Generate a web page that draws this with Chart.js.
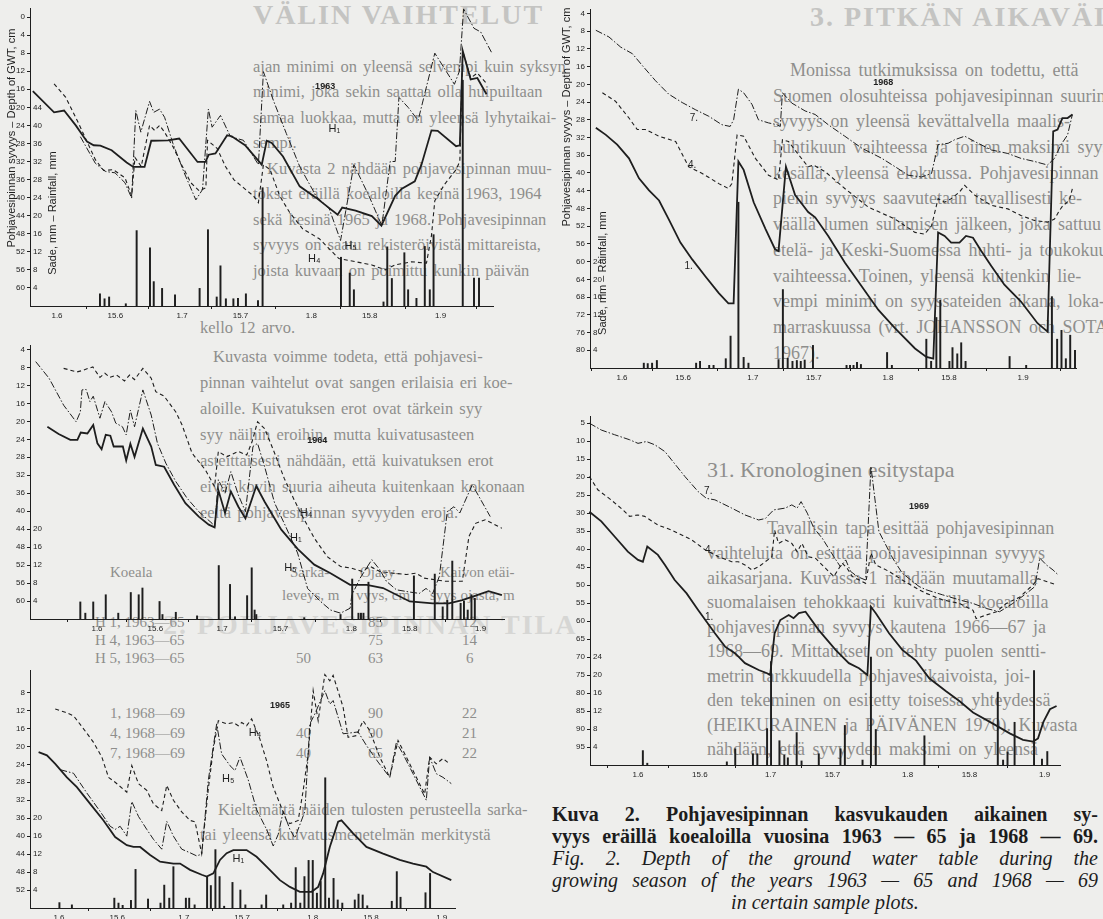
<!DOCTYPE html>
<html>
<head>
<meta charset="utf-8">
<script src="https://cdn.jsdelivr.net/npm/chart.js@4.4.0/dist/chart.umd.min.js"></script>
<style>
  html, body { margin: 0; padding: 0; background: #eeeeec; }
  #page { position: relative; width: 1103px; height: 919px; overflow: hidden; background: #eeeeec; }
  canvas { position: absolute; }
  .ln { position: absolute; white-space: nowrap; font-family: "Liberation Serif", "DejaVu Serif", serif; color: #8e8e8c; line-height: 20px; }
  .lt { font-size: 16.5px; word-spacing: 2px; }
  .rt { font-size: 18px; word-spacing: 3px; }
  .ghost { color: #c4c4c2; font-weight: bold; font-size: 28px; letter-spacing: 2px; line-height: 30px; }
  .ghost2 { color: #d6d6d4; font-weight: bold; font-size: 28px; letter-spacing: 2px; line-height: 30px; }
  .head { font-size: 22px; line-height: 24px; }
  .tab { font-size: 15px; }
  .cap { position: absolute; left: 552px; width: 546px; font-family: "Liberation Serif", serif; font-size: 20px; line-height: 22px; color: #1c1c1c; white-space: nowrap; }
  .cap.j { text-align: justify; text-align-last: justify; }
  .cap.b { font-weight: bold; }
  .cap.i { font-style: italic; }
</style>
</head>
<body>
<div id="page">

  <!-- page text behind the figure -->
  <div class="ln ghost" style="left:253px; top:0px;">VÄLIN VAIHTELUT</div>
  <div class="ln ghost" style="left:810px; top:2px;">3. PITKÄN AIKAVÄLIN VAIHTELUT</div>
  <div class="ln ghost2" style="left:163px; top:610px;">2. POHJAVESIPINNAN TILA</div>

  <div class="ln lt" style="left:253px; top:57px;">ajan minimi on yleensä selvempi kuin syksyn</div>
  <div class="ln lt" style="left:253px; top:82px;">minimi, joka sekin saattaa olla huipuiltaan</div>
  <div class="ln lt" style="left:253px; top:108px;">samaa luokkaa, mutta on yleensä lyhytaikai-</div>
  <div class="ln lt" style="left:253px; top:133px;">sempi.</div>
  <div class="ln lt" style="left:267px; top:159px;">Kuvasta 2 nähdään pohjavesipinnan muu-</div>
  <div class="ln lt" style="left:253px; top:184px;">tokset eräillä koealoilla kesinä 1963, 1964</div>
  <div class="ln lt" style="left:253px; top:210px;">sekä kesinä 1965 ja 1968. Pohjavesipinnan</div>
  <div class="ln lt" style="left:253px; top:235px;">syvyys on saatu rekisteröivistä mittareista,</div>
  <div class="ln lt" style="left:253px; top:261px;">joista kuvaan on poimittu kunkin päivän</div>
  <div class="ln lt" style="left:200px; top:318px;">kello 12 arvo.</div>
  <div class="ln lt" style="left:213px; top:347px;">Kuvasta voimme todeta, että pohjavesi-</div>
  <div class="ln lt" style="left:200px; top:373px;">pinnan vaihtelut ovat sangen erilaisia eri koe-</div>
  <div class="ln lt" style="left:200px; top:399px;">aloille. Kuivatuksen erot ovat tärkein syy</div>
  <div class="ln lt" style="left:200px; top:425px;">syy näihin eroihin, mutta kuivatusasteen</div>
  <div class="ln lt" style="left:200px; top:451px;">asteittaisesti nähdään, että kuivatuksen erot</div>
  <div class="ln lt" style="left:200px; top:477px;">eivät kovin suuria aiheuta kuitenkaan kokonaan</div>
  <div class="ln lt" style="left:200px; top:503px;">eeltä pohjavesipinnan syvyyden eroja.</div>

  <div class="ln tab" style="left:110px; top:562px;">Koeala</div>
  <div class="ln tab" style="left:290px; top:562px;">Sarka-</div>
  <div class="ln tab" style="left:360px; top:562px;">Ojasy-</div>
  <div class="ln tab" style="left:440px; top:562px;">Kaivon etäi-</div>
  <div class="ln tab" style="left:282px; top:585px;">leveys, m</div>
  <div class="ln tab" style="left:356px; top:585px;">vyys, cm</div>
  <div class="ln tab" style="left:430px; top:585px;">syys ojasta, m</div>
  <div class="ln tab" style="left:95px; top:612px;">H 1, 1963—65</div>
  <div class="ln tab" style="left:368px; top:612px;">85</div>
  <div class="ln tab" style="left:462px; top:612px;">12</div>
  <div class="ln tab" style="left:95px; top:630px;">H 4, 1963—65</div>
  <div class="ln tab" style="left:368px; top:630px;">75</div>
  <div class="ln tab" style="left:462px; top:630px;">14</div>
  <div class="ln tab" style="left:95px; top:648px;">H 5, 1963—65</div>
  <div class="ln tab" style="left:296px; top:648px;">50</div>
  <div class="ln tab" style="left:368px; top:648px;">63</div>
  <div class="ln tab" style="left:466px; top:648px;">6</div>
  <div class="ln tab" style="left:110px; top:703px;">1, 1968—69</div>
  <div class="ln tab" style="left:368px; top:703px;">90</div>
  <div class="ln tab" style="left:462px; top:703px;">22</div>
  <div class="ln tab" style="left:110px; top:723px;">4, 1968—69</div>
  <div class="ln tab" style="left:296px; top:723px;">40</div>
  <div class="ln tab" style="left:368px; top:723px;">90</div>
  <div class="ln tab" style="left:462px; top:723px;">21</div>
  <div class="ln tab" style="left:110px; top:743px;">7, 1968—69</div>
  <div class="ln tab" style="left:296px; top:743px;">40</div>
  <div class="ln tab" style="left:368px; top:743px;">65</div>
  <div class="ln tab" style="left:462px; top:743px;">22</div>

  <div class="ln lt" style="left:218px; top:800px;">Kieltämättä näiden tulosten perusteella sarka-</div>
  <div class="ln lt" style="left:200px; top:825px;">tai yleensä kuivatusmenetelmän merkitystä</div>

  <div class="ln rt" style="left:790px; top:60px;">Monissa tutkimuksissa on todettu, että</div>
  <div class="ln rt" style="left:773px; top:86px;">Suomen olosuhteissa pohjavesipinnan suurin</div>
  <div class="ln rt" style="left:773px; top:111px;">syvyys on yleensä kevättalvella maalis-</div>
  <div class="ln rt" style="left:773px; top:137px;">huhtikuun vaihteessa ja toinen maksimi syys-</div>
  <div class="ln rt" style="left:773px; top:163px;">kesällä, yleensä elokuussa. Pohjavesipinnan</div>
  <div class="ln rt" style="left:773px; top:188px;">pienin syvyys saavutetaan tavallisesti ke-</div>
  <div class="ln rt" style="left:773px; top:214px;">väällä lumen sulamisen jälkeen, joka sattuu</div>
  <div class="ln rt" style="left:773px; top:240px;">etelä- ja Keski-Suomessa huhti- ja toukokuun</div>
  <div class="ln rt" style="left:773px; top:266px;">vaihteessa. Toinen, yleensä kuitenkin lie-</div>
  <div class="ln rt" style="left:773px; top:291px;">vempi minimi on syyssateiden aikana, loka-</div>
  <div class="ln rt" style="left:773px; top:317px;">marraskuussa (vrt. JOHANSSON och SOTAMAA</div>
  <div class="ln rt" style="left:773px; top:343px;">1967).</div>

  <div class="ln head" style="left:707px; top:458px;">31. Kronologinen esitystapa</div>
  <div class="ln rt" style="left:767px; top:518px;">Tavallisin tapa esittää pohjavesipinnan</div>
  <div class="ln rt" style="left:707px; top:543px;">vaihteluita on esittää pohjavesipinnan syvyys</div>
  <div class="ln rt" style="left:707px; top:568px;">aikasarjana. Kuvassa 1 nähdään muutamalla</div>
  <div class="ln rt" style="left:707px; top:592px;">suomalaisen tehokkaasti kuivatuilla koealoilla</div>
  <div class="ln rt" style="left:707px; top:617px;">pohjavesipinnan syvyys kautena 1966—67 ja</div>
  <div class="ln rt" style="left:707px; top:641px;">1968—69. Mittaukset on tehty puolen sentti-</div>
  <div class="ln rt" style="left:707px; top:666px;">metrin tarkkuudella pohjavesikaivoista, joi-</div>
  <div class="ln rt" style="left:707px; top:690px;">den tekeminen on esitetty toisessa yhteydessä</div>
  <div class="ln rt" style="left:707px; top:715px;">(HEIKURAINEN ja PÄIVÄNEN 1970). Kuvasta</div>
  <div class="ln rt" style="left:707px; top:739px;">nähdään, että syvyyden maksimi on yleensä</div>

  <!-- figure panels -->
  <canvas id="c1963"></canvas>
  <canvas id="c1964"></canvas>
  <canvas id="c1965"></canvas>
  <canvas id="c1968"></canvas>
  <canvas id="c1969"></canvas>

  <!-- caption -->
  <div class="cap j b" style="top:803px;">Kuva 2. Pohjavesipinnan kasvukauden aikainen sy-</div>
  <div class="cap j b" style="top:825px;">vyys eräillä koealoilla vuosina 1963 — 65 ja 1968 — 69.</div>
  <div class="cap j i" style="top:847px;">Fig. 2. Depth of the ground water table during the</div>
  <div class="cap j i" style="top:869px;">growing season of the years 1963 — 65 and 1968 — 69</div>
  <div class="cap i" style="top:891px; text-align:center;">in certain sample plots.</div>
</div>

<script>
/* ======================
   DATA  (day counted from 1 June; depth cm; rain mm)
====================== */
const X_TICK_DAYS = [0, 14, 30, 44, 61, 75, 92];
const X_TICK_LABELS = ["1.6", "15.6", "1.7", "15.7", "1.8", "15.8", "1.9"];

// 1963
const h1_1963 = [[-5.8,16.4],[-0.7,21.1],[1.7,20.7],[4.5,24.0],[7.2,27.6],[8.8,28.4],[10.4,28.5],[13.1,29.5],[16.7,32.2],[18.3,33.2],[21.0,33.2],[22.6,27.4],[26.6,27.3],[29.3,26.9],[33.7,32.1],[35.6,32.1],[36.4,30.5],[38.0,30.2],[40.8,26.2],[41.9,26.4],[45.1,28.4],[49.1,32.7],[50.3,27.4],[51.5,27.9],[54.2,30.9],[58.2,37.5],[62.1,40.0],[67.3,43.8],[68.4,42.2],[71.6,42.9],[75.5,44.1],[77.8,46.2],[81.1,39.6],[82.7,38.0],[85.8,36.4],[87.4,32.7],[89.8,25.1],[91.3,25.2],[95.7,28.6],[96.6,28.4],[97.3,7.5],[99.2,13.8],[100.8,13.5],[103.0,17.1]];
const h4_1963 = [[-0.7,14.8],[2.1,17.8],[5.2,23.6],[9.2,31.6],[11.2,34.0],[13.5,33.8],[16.3,35.6],[17.9,39.6],[18.7,31.1],[20.2,33.1],[22.2,24.0],[23.4,25.1],[24.6,24.0],[25.8,25.5],[27.8,28.7],[29.7,32.4],[32.1,36.7],[34.1,38.5],[35.7,37.8],[36.1,27.3],[38.4,29.1],[40.4,33.1],[42.4,36.0],[44.7,37.8],[47.1,39.6],[48.3,41.1],[49.5,32.7],[51.1,33.8],[53.4,39.6],[55.8,43.3],[58.9,46.9],[62.9,49.1],[67.6,53.5],[71.6,54.2],[75.5,54.9],[78.7,56.0],[81.1,54.9],[85.0,54.2],[88.6,54.5],[89.8,48.4],[90.6,40.7],[92.9,37.1],[95.7,33.8],[96.6,32.0],[97.3,7.6],[99.2,13.5],[100.8,12.4],[103.2,14.9]];
const h5_1963 = [[5.6,26.5],[9.2,32.4],[11.6,34.2],[13.9,34.5],[16.3,36.7],[17.9,40.1],[18.9,20.7],[20.1,25.5],[22.2,18.7],[23.2,21.1],[24.6,20.4],[25.8,22.2],[27.8,28.0],[30.5,34.5],[33.3,40.5],[34.9,38.2],[36.3,20.4],[37.2,24.4],[39.2,21.8],[41.6,26.5],[44.7,27.3],[48.3,32.7],[49.5,12.1],[51.9,18.5],[55.0,25.8],[58.2,33.1],[62.1,39.6],[65.3,42.5],[68.0,49.5],[71.2,32.7],[74.8,39.6],[77.9,46.2],[79.9,32.0],[81.1,32.0],[82.0,17.8],[84.2,20.0],[86.6,22.9],[90.6,8.0],[95.3,14.9],[96.5,12.0],[97.5,-1.8],[100.0,2.5],[101.6,3.3],[104.3,8.0]];
const rain1963 = [[10.3,2.7],[11.4,1.6],[12.5,2.0],[16.5,0.5],[19.1,16.7],[22.3,12.9],[23.2,5.4],[25.2,3.9],[28.3,2.5],[34.2,3.9],[36.2,16.9],[38.3,2.0],[39.2,8.9],[40.5,1.6],[42.3,1.6],[43.4,1.7],[45.3,2.7],[48.2,1.2],[49.3,26.2],[68.1,10.8],[70.2,7.3],[71.2,3.6],[78.3,0.9],[79.2,13.1],[80.3,6.1],[83.3,11.8],[84.2,3.6],[86.2,1.7],[88.2,13.2],[89.4,3.6],[90.3,15.8],[97.3,50.0],[100.0,6.2],[101.2,6.2]];

// 1964
const h1_1964 = [[-11.9,21.2],[-9.2,22.8],[-6.4,24.1],[-4.7,24.1],[-3.9,22.5],[-2.3,22.7],[-0.9,20.8],[0.1,24.9],[1.1,26.2],[2.1,23.0],[3.2,23.2],[4.0,25.6],[6.2,25.6],[7.0,28.7],[8.0,25.0],[9.0,27.9],[11.0,21.6],[13.0,25.6],[14.1,29.7],[16.1,30.1],[18.5,34.1],[21.2,38.2],[24.4,41.2],[26.8,43.0],[28.2,43.6],[29.1,35.3],[30.7,40.4],[32.1,35.6],[33.9,39.0],[35.6,41.6],[38.2,34.4],[40.2,37.9],[44.2,44.1],[48.1,48.4],[52.1,51.9],[56.0,53.8],[60.7,56.4],[64.7,56.4],[68.6,57.1],[75.0,60.1],[80.5,60.5],[84.4,60.5],[87.6,59.8],[90.8,58.8],[93.9,57.8],[97.1,58.7]];
const h4_1964 = [[-8.0,8.2],[-4.8,9.0],[-3.2,8.6],[-2.1,8.2],[-1.0,7.9],[0.7,10.2],[1.9,9.3],[3.1,10.2],[4.7,9.7],[6.6,11.0],[7.8,9.7],[9.0,10.7],[11.0,8.2],[13.0,10.4],[14.1,13.4],[16.1,14.4],[18.9,17.9],[20.4,20.8],[22.8,27.1],[26.0,30.8],[28.2,34.5],[29.1,26.7],[31.1,27.9],[33.9,26.7],[35.9,27.5],[37.2,24.5],[38.5,20.1],[40.2,21.6],[42.6,27.1],[44.9,32.7],[47.3,37.5],[49.3,41.2],[52.1,46.0],[55.2,50.1],[58.4,52.3],[61.1,52.7],[63.5,53.4],[65.5,52.3],[67.8,53.4],[71.0,53.8],[74.2,54.1],[76.5,53.8],[78.5,54.9],[81.3,55.3],[83.6,55.6],[87.6,55.6],[89.2,45.6],[90.8,42.7],[93.1,41.9],[97.1,43.8]];
const h5_1964 = [[-14.7,6.7],[-11.5,10.4],[-8.0,16.4],[-5.0,20.1],[-4.0,17.9],[-3.6,13.0],[-2.6,12.9],[-1.7,15.6],[-0.9,14.4],[0.7,19.3],[1.9,15.6],[3.5,17.9],[4.5,20.4],[6.1,21.2],[7.0,23.0],[8.0,17.5],[9.0,21.2],[11.0,13.0],[13.0,18.6],[14.5,24.9],[16.5,29.3],[18.9,33.4],[21.6,37.1],[24.4,40.1],[27.6,42.7],[28.2,43.8],[29.1,33.0],[30.7,36.0],[32.1,31.2],[33.9,36.4],[35.6,40.1],[37.4,25.6],[38.5,24.9],[40.2,30.1],[42.6,38.2],[44.9,42.7],[48.1,49.3],[50.5,57.2],[53.6,60.1],[56.0,62.0],[58.4,62.7],[60.7,61.6],[61.1,58.7],[63.1,54.9],[65.9,50.8],[67.8,53.0],[69.4,55.6],[71.8,57.5],[75.0,58.0],[77.3,58.3],[78.9,57.2],[80.5,58.3],[82.1,54.5],[84.0,40.1],[85.6,39.0],[87.0,40.4],[90.0,34.1],[94.3,41.2]];
const rain1964 = [[-4.0,3.8],[-2.8,1.3],[-0.9,3.8],[2.1,5.4],[5.1,1.3],[8.1,5.9],[10.0,5.4],[10.9,6.9],[15.0,3.9],[15.7,1.0],[18.9,1.5],[24.0,0.7],[29.2,11.9],[31.9,7.7],[33.1,0.5],[36.0,5.2],[37.1,11.4],[37.8,2.0],[38.2,1.0],[49.7,0.3],[58.4,1.0],[61.2,8.9],[62.7,1.3],[63.3,1.3],[63.9,1.3],[65.1,8.2],[76.0,9.6],[81.0,10.0],[82.9,2.7],[84.0,4.2],[85.2,12.9],[87.2,3.5],[88.0,4.0],[88.9,2.0],[89.8,5.4],[90.6,4.6]];

// 1965
const h1_1965 = [[-4.9,21.3],[-2.9,22.0],[-0.9,23.9],[1.9,26.9],[4.3,29.1],[7.5,32.8],[10.7,36.5],[13.5,40.2],[16.3,42.0],[17.9,42.4],[19.5,42.4],[21.9,44.2],[24.3,45.7],[27.5,46.1],[29.1,46.1],[31.5,47.5],[34.3,48.6],[35.5,49.0],[37.1,48.3],[38.7,45.3],[40.3,43.8],[41.9,43.1],[45.1,43.1],[47.5,44.6],[49.9,46.8],[53.1,49.8],[55.5,51.3],[57.9,52.4],[60.7,52.4],[62.3,51.3],[63.5,48.3],[65.1,42.4],[67.1,36.8],[67.9,36.5],[70.7,39.4],[73.9,42.4],[77.9,43.9],[81.9,45.3],[85.1,46.1],[88.3,46.8],[89.9,48.0],[94.3,49.8]];
const h4_1965 = [[-0.9,11.7],[1.5,12.4],[3.5,13.2],[5.9,16.1],[8.3,19.1],[10.3,22.4],[11.9,26.9],[13.5,28.0],[16.3,30.2],[17.5,24.3],[19.1,28.3],[21.1,29.8],[22.7,32.8],[24.7,34.3],[25.9,28.7],[27.5,32.0],[29.5,34.6],[31.5,36.5],[32.7,36.8],[34.3,43.9],[35.9,29.4],[37.1,20.6],[38.3,14.3],[40.3,15.0],[41.9,14.7],[43.1,15.4],[43.9,14.7],[45.1,15.4],[46.3,13.9],[48.3,18.4],[49.9,23.2],[51.5,29.1],[53.1,32.8],[54.7,36.5],[55.5,37.2],[57.5,36.5],[58.7,29.8],[59.9,21.7],[61.1,7.6],[62.3,14.3],[63.9,4.0],[65.1,5.4],[65.9,4.2],[68.3,11.3],[69.5,18.0],[71.5,17.6],[73.1,14.3],[74.7,16.5],[77.1,22.4],[79.5,26.9],[81.5,18.7],[83.5,22.4],[85.9,26.9],[87.9,30.6],[89.1,22.4],[90.7,23.9],[92.3,22.7],[93.9,23.9]];
const h5_1965 = [[0.3,25.2],[3.5,26.0],[6.7,30.4],[9.9,34.5],[12.3,37.8],[13.5,38.5],[14.7,37.8],[16.3,40.0],[17.5,32.3],[19.1,35.6],[21.1,38.5],[22.7,40.7],[24.7,42.9],[25.9,36.7],[27.5,40.0],[29.5,42.9],[31.5,43.7],[33.1,44.4],[34.3,44.0],[35.9,27.5],[37.9,15.0],[39.1,21.7],[41.1,24.3],[42.3,25.4],[43.5,22.4],[45.5,27.5],[47.5,34.1],[49.9,38.5],[51.5,42.2],[52.7,39.6],[53.9,34.5],[55.5,38.5],[56.7,40.4],[59.1,34.5],[60.3,15.0],[61.5,12.8],[63.9,7.6],[65.1,10.6],[65.9,9.8],[68.3,17.2],[71.9,16.8],[73.9,19.8],[76.7,23.5],[79.5,26.9],[81.1,19.1],[82.7,21.7],[85.1,26.1],[88.3,32.0],[89.1,22.4],[90.7,26.1],[92.3,26.9],[94.3,28.3]];
const rain1965 = [[0.1,1.2],[3.1,0.7],[13.3,2.2],[14.3,1.1],[15.3,0.6],[17.3,1.7],[18.4,8.6],[21.4,2.0],[24.4,1.1],[25.3,5.1],[26.5,2.2],[27.5,9.2],[30.5,2.2],[31.3,2.2],[32.6,0.7],[35.6,7.0],[36.5,5.0],[37.6,13.0],[38.6,7.0],[39.7,0.4],[41.7,5.7],[43.6,4.0],[44.8,0.7],[48.7,0.7],[49.8,2.9],[53.9,0.7],[55.8,1.1],[56.9,9.0],[58.0,1.1],[59.0,7.0],[60.0,10.6],[61.0,10.6],[62.0,3.3],[62.9,5.9],[64.0,29.0],[64.9,2.2],[66.0,6.6],[67.0,1.8],[68.1,1.1],[71.1,1.8],[72.0,3.1],[73.0,2.9],[74.1,0.5],[80.0,1.5],[81.2,8.1],[82.1,2.4],[88.1,3.4],[89.2,7.7]];

// 1968
const p1_1968 = [[-6.0,29.8],[-3.7,31.4],[-1.1,33.6],[1.6,36.7],[3.9,41.2],[6.2,43.9],[8.5,46.2],[10.7,50.4],[13.4,55.7],[16.1,59.5],[19.1,63.3],[22.2,67.1],[24.4,69.4],[25.6,69.4],[26.7,37.4],[27.9,39.3],[30.2,46.6],[32.9,52.6],[35.1,57.2],[35.9,57.6],[37.6,38.6],[39.7,45.0],[41.2,46.9],[42.7,48.8],[44.3,50.0],[47.3,54.2],[51.1,60.2],[55.0,65.6],[58.8,70.9],[62.6,75.0],[67.2,79.6],[69.8,81.5],[71.4,81.9],[72.5,53.4],[74.0,54.2],[75.5,55.7],[77.4,55.7],[78.9,54.2],[80.5,54.6],[82.4,57.6],[84.7,61.0],[87.7,65.2],[91.5,69.0],[95.3,73.9],[97.6,75.8],[98.9,30.6],[99.9,30.2],[101.0,27.6],[102.2,27.6],[103.3,26.8]];
const p4_1968 = [[-4.5,21.9],[-1.5,23.8],[1.6,27.6],[3.5,30.2],[5.4,30.2],[8.5,31.7],[12.3,32.9],[15.3,38.6],[18.4,40.1],[22.2,42.4],[24.4,43.5],[25.2,42.4],[26.4,31.4],[27.9,31.7],[30.6,36.7],[33.6,40.5],[35.9,41.6],[36.8,32.5],[38.2,32.9],[40.5,35.9],[42.7,38.6],[43.9,38.2],[46.6,39.7],[51.1,43.5],[56.5,47.7],[62.6,50.4],[67.2,53.4],[69.4,53.8],[71.0,51.9],[72.5,45.8],[74.0,46.6],[75.5,45.8],[77.4,44.3],[78.6,42.8],[80.9,45.0],[84.7,47.3],[88.5,48.1],[91.5,49.6],[94.6,50.7],[97.6,51.1],[99.2,50.4],[100.3,48.5],[101.1,47.4],[102.6,46.2],[103.3,43.5]];
const p7_1968 = [[-6.0,7.8],[-3.0,9.3],[-0.3,11.6],[2.4,13.1],[4.7,15.8],[7.7,19.2],[10.7,22.2],[13.8,24.1],[16.8,25.7],[19.9,27.2],[22.9,29.1],[24.8,29.5],[25.6,28.0],[26.7,21.1],[27.9,21.9],[29.8,24.5],[31.3,28.0],[33.6,28.7],[35.5,29.1],[36.3,29.5],[36.8,21.9],[38.9,24.2],[42.0,26.0],[44.3,26.8],[47.3,29.1],[51.1,31.7],[55.0,34.4],[59.6,36.7],[63.3,39.0],[65.6,40.5],[68.7,40.9],[71.0,40.1],[72.5,33.6],[74.8,33.3],[76.3,32.5],[78.6,31.7],[80.9,32.9],[84.7,34.8],[88.5,35.6],[91.5,36.7],[94.6,37.4],[97.6,38.2],[99.2,36.7],[100.7,33.6],[102.2,31.4],[103.3,26.8]];
const rain1968 = [[5.0,1.1],[5.9,1.0],[6.9,1.1],[8.0,1.7],[17.0,1.1],[17.9,1.5],[20.0,0.6],[21.0,0.6],[23.8,2.1],[24.9,7.2],[26.7,37.4],[27.9,2.4],[29.0,1.1],[35.9,1.9],[36.9,17.7],[38.0,2.2],[39.1,1.5],[40.1,1.7],[41.0,1.5],[41.9,1.8],[43.8,5.1],[51.5,0.6],[52.3,0.6],[53.1,0.6],[53.9,1.3],[54.8,0.8],[60.8,3.5],[61.9,0.6],[69.8,6.5],[70.9,1.5],[72.1,11.4],[73.0,15.3],[75.1,1.5],[75.8,4.6],[76.9,3.2],[77.8,5.7],[78.8,1.5],[88.9,2.6],[92.7,0.6],[98.6,16.1],[99.8,6.5],[100.8,8.5],[101.8,2.1],[102.8,7.4],[103.9,4.0]];

// 1969
const p1_1969 = [[-11.0,29.6],[-8.3,32.3],[-5.3,36.5],[-2.3,40.7],[0.0,43.0],[1.1,43.5],[2.1,39.3],[4.5,41.6],[6.1,44.4],[8.3,48.6],[11.0,52.3],[13.6,56.9],[17.4,63.4],[19.7,67.1],[22.0,69.0],[24.2,71.7],[27.3,73.6],[29.2,74.5],[29.9,75.0],[30.9,63.4],[32.2,59.7],[34.1,58.3],[35.2,59.2],[36.4,57.8],[37.9,57.4],[40.9,62.5],[44.7,68.0],[47.7,71.7],[50.0,73.1],[51.9,75.0],[52.7,56.0],[53.8,57.8],[56.8,63.4],[59.8,68.0],[62.9,71.0],[65.9,75.9],[69.7,79.5],[72.7,82.2],[75.8,85.4],[80.3,88.5],[84.1,91.2],[87.1,93.0],[89.4,93.5],[90.5,92.6],[91.7,88.1],[93.2,84.5],[94.7,83.6]];
const p4_1969 = [[-11.0,19.8],[-9.1,23.5],[-6.1,26.3],[-3.4,29.1],[-1.9,30.9],[0.0,30.5],[1.5,30.9],[4.5,33.3],[7.6,34.7],[12.1,37.4],[15.2,40.2],[18.2,42.1],[21.2,43.5],[22.7,43.5],[24.2,44.4],[25.8,45.8],[27.3,44.9],[28.8,43.5],[30.3,42.1],[30.9,34.7],[31.8,38.4],[33.3,37.4],[34.8,38.4],[36.0,40.7],[37.1,38.4],[38.5,42.1],[40.2,42.6],[42.4,45.3],[44.3,47.6],[46.2,43.9],[47.3,45.3],[48.5,47.6],[51.5,49.5],[52.7,41.1],[53.8,44.4],[56.8,46.2],[59.8,48.6],[63.6,51.3],[65.2,52.3],[68.9,54.1],[72.7,55.1],[75.8,57.0],[76.5,59.3],[78.8,58.3],[81.1,57.4],[83.3,55.1],[86.4,53.3],[89.4,49.9],[90.5,48.2],[92.4,49.0],[94.7,49.9]];
const p7_1969 = [[-11.0,5.0],[-8.3,6.9],[-5.3,8.2],[-1.9,9.6],[0.0,10.6],[1.9,10.1],[3.8,11.0],[6.1,12.9],[7.6,15.2],[10.6,19.8],[13.6,24.0],[15.5,25.9],[17.4,26.3],[21.2,28.6],[24.2,30.5],[27.3,31.9],[28.8,31.5],[30.7,29.1],[33.3,28.6],[34.8,27.7],[36.0,28.6],[36.9,26.8],[38.3,30.0],[39.8,34.2],[41.7,37.0],[44.3,42.1],[45.8,44.9],[47.0,43.0],[48.1,46.2],[49.6,47.6],[51.5,48.6],[52.7,17.0],[54.5,35.1],[57.6,42.5],[59.8,46.7],[63.6,50.4],[65.2,51.3],[68.9,52.7],[72.7,54.1],[75.8,55.1],[78.8,56.5],[81.8,57.4],[84.8,55.1],[87.9,52.3],[89.8,50.4],[90.9,42.5],[92.4,44.4],[93.9,45.8],[95.1,47.2]];
const rain1969 = [[1.1,3.2],[2.1,0.4],[20.1,0.7],[22.0,3.6],[26.0,2.5],[27.0,2.5],[29.2,8.1],[30.1,23.0],[32.0,5.4],[33.1,2.2],[33.9,1.6],[35.9,7.2],[37.0,0.9],[40.9,2.5],[45.8,3.6],[46.8,8.8],[50.8,1.1],[52.7,24.0],[53.8,7.9],[64.8,6.5],[81.4,16.2],[82.6,1.1],[83.6,2.9],[85.2,9.5],[89.6,21.0],[91.4,1.3],[92.6,3.0]];

// axis tick values
const depthTicks1963 = [0,4,8,12,16,20,24,28,32,36,40,44,48,52,56,60];
const rainTicks1963 = [4,8,12,16,20,24,28,32,36,40,44];
const depthTicks1964 = [4,8,12,16,20,24,28,32,36,40,44,48,52,56,60];
const rainTicks1964 = [4,8,12,16,20];
const depthTicks1965 = [8,12,16,20,24,28,32,36,40,44,48,52];
const rainTicks1965 = [4,8,12,16,20];
const depthTicks1968 = [4,8,12,16,20,24,28,32,36,40,44,48,52,56,60,64,68,72,76,80];
const rainTicks1968 = [4,8,12,16,20,24];
const depthTicks1969 = [5,10,15,20,25,30,35,40,45,50,55,60,65,70,75,80,85,90,95];
const rainTicks1969 = [4,8,12,16,20,24];

/* ======================
   STYLE
====================== */
const INK = "#1e1e1e";
const SOLID = { width: 1.8, dash: [] };
const DASH = { width: 1.1, dash: [4, 3] };
const DASHDOT = { width: 1.0, dash: [7, 2, 1.5, 2] };
const TICK_FONT = { family: "Liberation Sans, Arial, sans-serif", size: 8 };
const PAD_T = 10, PAD_R = 10, Y_W = 30, X_H = 16;

/* ======================
   TEXT ON THE PANELS
====================== */
const notesPlugin = {
  id: "notes",
  afterDatasetsDraw(chart, args, opts) {
    const { ctx, chartArea } = chart;
    const xs = chart.scales.x, ys = chart.scales.y;
    ctx.save();
    ctx.fillStyle = INK;
    ctx.textAlign = "center";
    ctx.textBaseline = "middle";
    (opts.items || []).forEach(n => {
      ctx.font = (n.bold ? "bold " : "") + n.size + "px Liberation Sans, Arial, sans-serif";
      ctx.fillText(n.text, xs.getPixelForValue(n.day), ys.getPixelForValue(n.depth));
    });
    if (opts.titles) {
      ctx.font = "11px Liberation Sans, Arial, sans-serif";
      const t = opts.titles;
      [[t.depthText, chartArea.left + t.depthDx, t.depthAt], [t.rainText, chartArea.left + t.rainDx, t.rainAt]].forEach(([s, x, d]) => {
        ctx.save();
        ctx.translate(x, ys.getPixelForValue(d));
        ctx.rotate(-Math.PI / 2);
        ctx.fillText(s, 0, 0);
        ctx.restore();
      });
    }
    ctx.restore();
  }
};

/* ======================
   PANEL BUILDER
====================== */
function panel(cfg) {
  const canvas = document.getElementById(cfg.id);
  const wantW = cfg.xEnd - cfg.axisX;
  const wantH = cfg.baseline - cfg.axisTop;
  canvas.width = wantW + Y_W + PAD_R;
  canvas.height = wantH + PAD_T + X_H;
  canvas.style.left = (cfg.axisX - Y_W) + "px";
  canvas.style.top = (cfg.axisTop - PAD_T) + "px";

  const xMin = (cfg.axisX - cfg.day0Px) / cfg.pxPerDay;
  const xMax = (cfg.xEnd - cfg.day0Px) / cfg.pxPerDay;
  const rainMax = (cfg.dMax - cfg.dMin) * cfg.rainPerCm;

  const datasets = [{
    type: "bar",
    data: cfg.rain.map(r => ({ x: r[0], y: r[1] })),
    yAxisID: "r",
    backgroundColor: INK,
    barThickness: 1.3,
    order: 2
  }].concat(cfg.lines.map(l => ({
    type: "line",
    data: l.pts.map(p => ({ x: p[0], y: p[1] })),
    yAxisID: "y",
    borderColor: INK,
    borderWidth: l.style.width,
    borderDash: l.style.dash,
    pointRadius: 0,
    tension: 0,
    fill: false,
    clip: 6,
    order: 1
  })));

  const chart = new Chart(canvas, {
    type: "line",
    data: { datasets },
    options: {
      responsive: false,
      maintainAspectRatio: false,
      animation: false,
      devicePixelRatio: 1,
      layout: { padding: { top: PAD_T, right: PAD_R, left: 0, bottom: 0 } },
      plugins: {
        legend: { display: false },
        tooltip: { enabled: false },
        notes: { items: cfg.notes, titles: cfg.titles }
      },
      scales: {
        x: {
          type: "linear", min: xMin, max: xMax, offset: false,
          afterBuildTicks: s => { s.ticks = X_TICK_DAYS.map(v => ({ value: v })); },
          afterFit: s => { s.height = X_H; },
          ticks: {
            autoSkip: false, maxRotation: 0, padding: 2, color: INK, font: TICK_FONT,
            callback: v => X_TICK_LABELS[X_TICK_DAYS.indexOf(v)]
          },
          grid: { drawOnChartArea: false, tickLength: 3, color: INK },
          border: { color: INK, width: 1 }
        },
        y: {
          type: "linear", position: "left", weight: 1, reverse: true,
          min: cfg.dMin, max: cfg.dMax,
          afterBuildTicks: s => { s.ticks = cfg.depthTicks.map(v => ({ value: v })); },
          afterFit: s => { s.width = Y_W; },
          ticks: { padding: 2, color: INK, font: TICK_FONT },
          grid: { drawOnChartArea: false, tickLength: 3, color: INK },
          border: { color: INK, width: 1 }
        },
        r: {
          type: "linear", position: "left", weight: 0,
          min: 0, max: rainMax,
          afterBuildTicks: s => { s.ticks = cfg.rainTicks.map(v => ({ value: v })); },
          afterFit: s => { s.width = 0; },
          ticks: { mirror: true, padding: 3, color: INK, font: TICK_FONT },
          grid: { display: false },
          border: { display: false }
        }
      }
    },
    plugins: [notesPlugin]
  });

  // make the plot area land exactly on the intended box
  let ca = chart.chartArea;
  const dw = wantW - (ca.right - ca.left), dh = wantH - (ca.bottom - ca.top);
  if (Math.abs(dw) > 0.5 || Math.abs(dh) > 0.5) {
    chart.resize(canvas.width + dw, canvas.height + dh);
    ca = chart.chartArea;
  }
  canvas.style.left = (cfg.axisX - ca.left) + "px";
  canvas.style.top = (cfg.axisTop - ca.top) + "px";
}

/* ======================
   PANELS
====================== */
const DEPTH_TITLE = "Pohjavesipinnan syvyys – Depth of GWT, cm";
const RAIN_TITLE = "Sade, mm – Rainfall, mm";

panel({
  id: "c1963", axisX: 30, xEnd: 493, day0Px: 57, pxPerDay: 4.17,
  axisTop: 8, baseline: 306, dMin: -2, dMax: 64, rainPerCm: 1,
  depthTicks: depthTicks1963, rainTicks: rainTicks1963,
  lines: [{ pts: h1_1963, style: SOLID }, { pts: h4_1963, style: DASH }, { pts: h5_1963, style: DASHDOT }],
  rain: rain1963,
  notes: [
    { text: "1963", day: 64.3, depth: 15.5, size: 9, bold: true },
    { text: "H₁", day: 66.5, depth: 24.7, size: 11 },
    { text: "H₅", day: 70.4, depth: 50.7, size: 11 },
    { text: "H₄", day: 61.7, depth: 53.5, size: 11 }
  ],
  titles: { depthText: DEPTH_TITLE, depthDx: -18, depthAt: 26.8, rainText: RAIN_TITLE, rainDx: 23, rainAt: 43.4 }
});

panel({
  id: "c1964", axisX: 30, xEnd: 504, day0Px: 97, pxPerDay: 4.17,
  axisTop: 345, baseline: 619, dMin: 3, dMax: 64, rainPerCm: 1,
  depthTicks: depthTicks1964, rainTicks: rainTicks1964,
  lines: [{ pts: h1_1964, style: SOLID }, { pts: h4_1964, style: DASH }, { pts: h5_1964, style: DASHDOT }],
  rain: rain1964,
  notes: [
    { text: "1964", day: 52.8, depth: 24.3, size: 9, bold: true },
    { text: "H₄", day: 50.1, depth: 40.4, size: 11 },
    { text: "H₁", day: 47.7, depth: 46.0, size: 11 },
    { text: "H₅", day: 46.4, depth: 52.7, size: 11 }
  ]
});

panel({
  id: "c1965", axisX: 30, xEnd: 455, day0Px: 59, pxPerDay: 4.16,
  axisTop: 670, baseline: 908, dMin: 3, dMax: 56, rainPerCm: 1,
  depthTicks: depthTicks1965, rainTicks: rainTicks1965,
  lines: [{ pts: h1_1965, style: SOLID }, { pts: h4_1965, style: DASH }, { pts: h5_1965, style: DASHDOT }],
  rain: rain1965,
  notes: [
    { text: "1965", day: 53.1, depth: 11.0, size: 9, bold: true },
    { text: "H₄", day: 47.1, depth: 17.1, size: 11 },
    { text: "H₅", day: 40.7, depth: 27.2, size: 11 },
    { text: "H₁", day: 43.1, depth: 45.0, size: 11 }
  ]
});

panel({
  id: "c1968", axisX: 590, xEnd: 1076, day0Px: 622, pxPerDay: 4.36,
  axisTop: 9, baseline: 368, dMin: 3, dMax: 84, rainPerCm: 1,
  depthTicks: depthTicks1968, rainTicks: rainTicks1968,
  lines: [{ pts: p1_1968, style: SOLID }, { pts: p4_1968, style: DASH }, { pts: p7_1968, style: DASHDOT }],
  rain: rain1968,
  notes: [
    { text: "1968", day: 59.9, depth: 19.6, size: 9, bold: true },
    { text: "7.", day: 16.5, depth: 27.6, size: 10 },
    { text: "4.", day: 16.1, depth: 38.2, size: 10 },
    { text: "1.", day: 15.3, depth: 61.0, size: 10 }
  ],
  titles: { depthText: DEPTH_TITLE, depthDx: -23, depthAt: 27.4, rainText: RAIN_TITLE, rainDx: 13, rainAt: 62.6 }
});

panel({
  id: "c1969", axisX: 590, xEnd: 1060, day0Px: 638, pxPerDay: 4.42,
  axisTop: 416, baseline: 765, dMin: 3, dMax: 100, rainPerCm: 0.8,
  depthTicks: depthTicks1969, rainTicks: rainTicks1969,
  lines: [{ pts: p1_1969, style: SOLID }, { pts: p4_1969, style: DASH }, { pts: p7_1969, style: DASHDOT }],
  rain: rain1969,
  notes: [
    { text: "1969", day: 63.6, depth: 28.2, size: 9, bold: true },
    { text: "7.", day: 15.9, depth: 24.0, size: 10 },
    { text: "4.", day: 16.1, depth: 40.2, size: 10 },
    { text: "1.", day: 16.1, depth: 58.8, size: 10 }
  ]
});
</script>
</body>
</html>
